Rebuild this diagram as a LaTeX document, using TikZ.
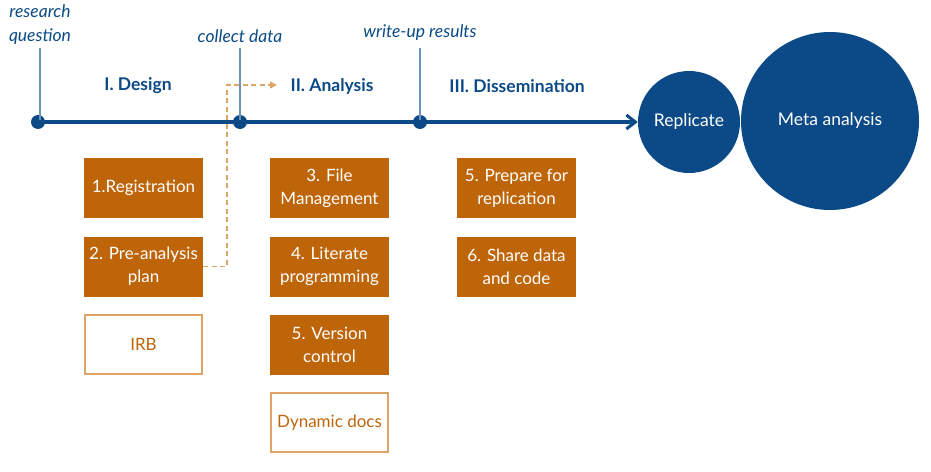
\documentclass[tikz,border=0pt]{standalone}
\usepackage{fontspec}
\setmainfont{Lato}
\usetikzlibrary{arrows.meta,calc}
\definecolor{navy}{HTML}{0B4A86}
\definecolor{tick}{HTML}{6F93B8}
\definecolor{rust}{HTML}{BF6509}
\definecolor{lightrust}{HTML}{DDA468}
\begin{document}
\begin{tikzpicture}[x=1pt,y=-1pt,
  dot/.style={circle,fill=navy,inner sep=0pt,minimum size=14pt},
  ticklbl/.style={font=\fontsize{17.5}{24}\selectfont\itshape,text=navy,align=center},
  phase/.style={font=\fontsize{17.5}{18}\selectfont\bfseries,text=navy},
  fillbox/.style={fill=rust,text=white,minimum width=119pt,minimum height=60pt,inner sep=2pt,align=center,font=\fontsize{17}{23}\selectfont},
  openbox/.style={draw=lightrust,line width=1.8pt,fill=white,text=rust,minimum width=117pt,minimum height=59pt,inner sep=2pt,align=center,font=\fontsize{17}{23}\selectfont},
  bigc/.style={circle,fill=navy,text=white,inner sep=0pt,font=\fontsize{17.5}{18}\selectfont}]
\useasboundingbox (0,0) rectangle (931,471);
% circles
\node[bigc,minimum size=178pt] (meta) at (830,121) {Meta analysis};
\node[bigc,minimum size=102pt] (repl) at (689,122) {Replicate};
% dots
\node[dot] (d1) at (38,122) {};
\node[dot] (d2) at (240,122) {};
\node[dot] (d3) at (420,122) {};
% tick tops
\coordinate (t1) at (40,48);
\coordinate (t2) at (240,48);
\coordinate (t3) at (420,48);
\draw[tick,line width=1.5pt] (t1) -- (40,122);
\draw[tick,line width=1.5pt] (t2) -- (d2.center);
\draw[tick,line width=1.5pt] (t3) -- (d3.center);
% main line
\draw[navy,line width=3.5pt,-{Straight Barb[length=9pt,width=14pt,line width=3pt]}] (d1.center) -- (repl.west);
% tick labels
\node[ticklbl] (lq) at (40,25) {research\\question};
\node[ticklbl] (lc) at (240,36) {collect data};
\node[ticklbl] (lw) at (420,33) {write-up results};
% phases
\node[phase] (p1) at (138,86) {I. Design};
\node[phase] (p2) at (332,86) {II. Analysis};
\node[phase] (p3) at (517,86) {III. Dissemination};
% boxes
\node[fillbox] (b1) at (143.5,188) {1.Registration};
\node[fillbox] (b2) at (143.5,266.5) {2. Pre-analysis\\plan};
\node[openbox] (irb) at (143.5,344.5) {IRB};
\node[fillbox] (b3) at (329.5,188) {3. File\\Management};
\node[fillbox] (b4) at (329.5,266.5) {4. Literate\\programming};
\node[fillbox] (b5) at (329.5,344.5) {5. Version\\control};
\node[openbox] (dyn) at (329.5,422.5) {Dynamic docs};
\node[fillbox] (b6) at (516.5,188) {5. Prepare for\\replication};
\node[fillbox] (b7) at (516.5,266.5) {6. Share data\\and code};
% dashed arrow
\coordinate (dend) at (277,85);
\draw[lightrust,line width=1.3pt,dash pattern=on 5pt off 3.5pt,-{Triangle[length=7pt,width=7pt]}] (b2.east) -- (227,266.5) -- (227,85) -- (dend);
\end{tikzpicture}
\end{document}
